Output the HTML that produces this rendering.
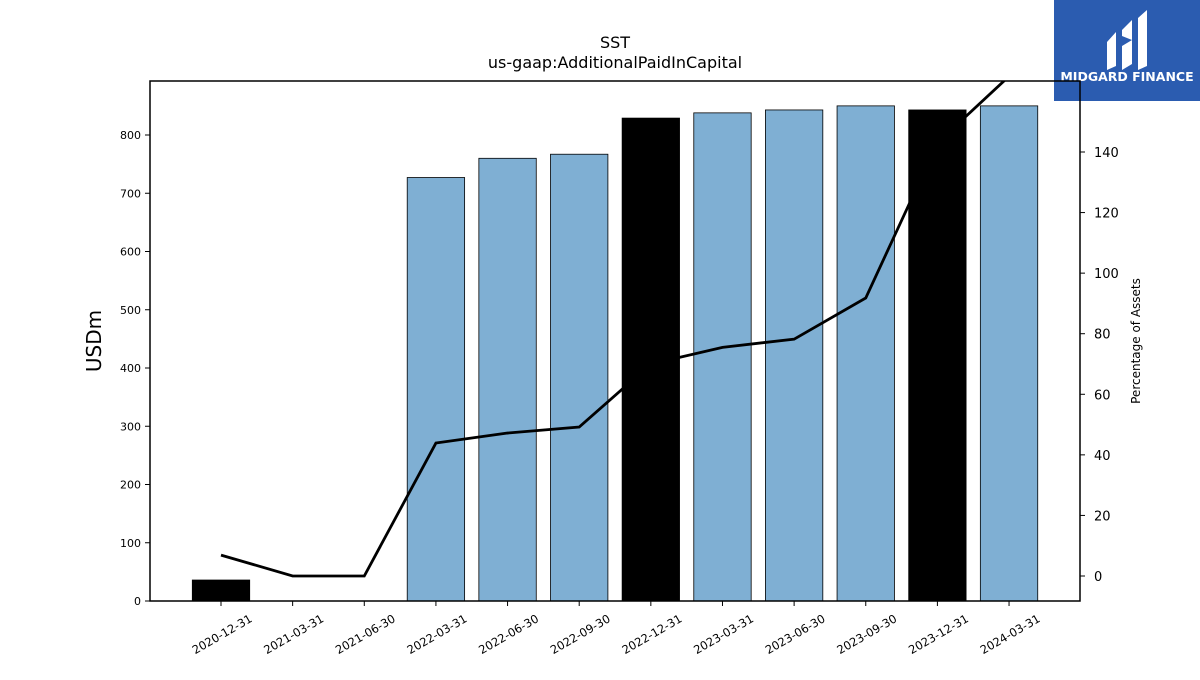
<!DOCTYPE html>
<html><head><meta charset="utf-8"><style>
body{margin:0;background:#fff;font-family:"Liberation Sans","DejaVu Sans",sans-serif}
svg text{font-family:"DejaVu Sans","Liberation Sans",sans-serif}
</style></head><body>
<svg id="c" width="1200" height="675" xmlns="http://www.w3.org/2000/svg">
<text x="615" y="48" text-anchor="middle" font-size="16">SST</text>
<text x="615" y="68" text-anchor="middle" font-size="16">us-gaap:AdditionalPaidInCapital</text>
<g>
<rect x="1054" y="0" width="146" height="101" fill="#2b5cb0"/>
<path d="M1107 42 L1116 32 L1116 66 L1107 70 Z M1122 30 L1132 20 L1132 40 L1122 36 Z M1122 46 L1132 40 L1132 64 L1122 70 Z M1138 18 L1147 10 L1147 66 L1138 70 Z" fill="#fff"/>
<text x="1127" y="81" text-anchor="middle" font-size="12.5" font-weight="bold" fill="#fff">MIDGARD FINANCE</text>
</g>
<g id="plot"></g>
<text transform="translate(101,341) rotate(-90)" text-anchor="middle" font-size="20">USDm</text>
<text transform="translate(1140,341) rotate(-90)" text-anchor="middle" font-size="12">Percentage of Assets</text>
</svg>
<script>
const categories=["2020-12-31","2021-03-31","2021-06-30","2022-03-31","2022-06-30","2022-09-30","2022-12-31","2023-03-31","2023-06-30","2023-09-30","2023-12-31","2024-03-31"];
const values=[36,0,0,727,760,767,829,838,843,850,843,850];
const highlight=[true,false,false,false,false,false,true,false,false,false,true,false];
const pct=[6.9,0,0,43.9,47.2,49.2,70,75.5,78.2,91.8,143,165];
const yTicks=[0,100,200,300,400,500,600,700,800];
const y2Ticks=[0,20,40,60,80,100,120,140];
const NS="http://www.w3.org/2000/svg";
const L=150,R=1080,T=81,B=601;
const y=v=>601-v*0.5825;
const y2=v=>576-v*3.0286;
const x=i=>221+i*71.64;
const g=document.getElementById('plot');
function mk(t,a){const e=document.createElementNS(NS,t);for(const k in a)e.setAttribute(k,a[k]);g.appendChild(e);return e;}
const cp=document.createElementNS(NS,'clipPath');cp.id='clip';const cr=document.createElementNS(NS,'rect');
cr.setAttribute('x',L);cr.setAttribute('y',T);cr.setAttribute('width',R-L);cr.setAttribute('height',B-T);cp.appendChild(cr);g.appendChild(cp);
values.forEach((v,i)=>{if(v<=0)return;const r=mk('rect',{x:x(i)-28.7,y:y(v),width:57.4,height:B-y(v),fill:highlight[i]?'#000':'#7fafd3',stroke:'#000','stroke-width':0.8});

});
const pl=mk('polyline',{points:pct.map((p,i)=>x(i)+','+y2(p)).join(' '),fill:'none',stroke:'#000','stroke-width':2.8,'clip-path':'url(#clip)'});


const fr=mk('rect',{x:L,y:T,width:R-L,height:B-T,fill:'none',stroke:'#000','stroke-width':1.5});


yTicks.forEach(t=>{mk('line',{x1:L-5,x2:L,y1:y(t),y2:y(t),stroke:'#000'});const e=mk('text',{x:L-9,y:y(t)+4,'text-anchor':'end','font-size':11});e.textContent=t;

});
y2Ticks.forEach(t=>{mk('line',{x1:R,x2:R+5,y1:y2(t),y2:y2(t),stroke:'#000'});const e=mk('text',{x:R+14,y:y2(t)+5,'font-size':13});e.textContent=t;

});
categories.forEach((c,i)=>{mk('line',{x1:x(i),x2:x(i),y1:B,y2:B+5,stroke:'#000'});const e=mk('text',{x:x(i)+32,y:B+20,'text-anchor':'end','font-size':11.5,transform:`rotate(-30 ${x(i)+32} ${B+20})`});e.textContent=c;

});
</script>
</body></html>
